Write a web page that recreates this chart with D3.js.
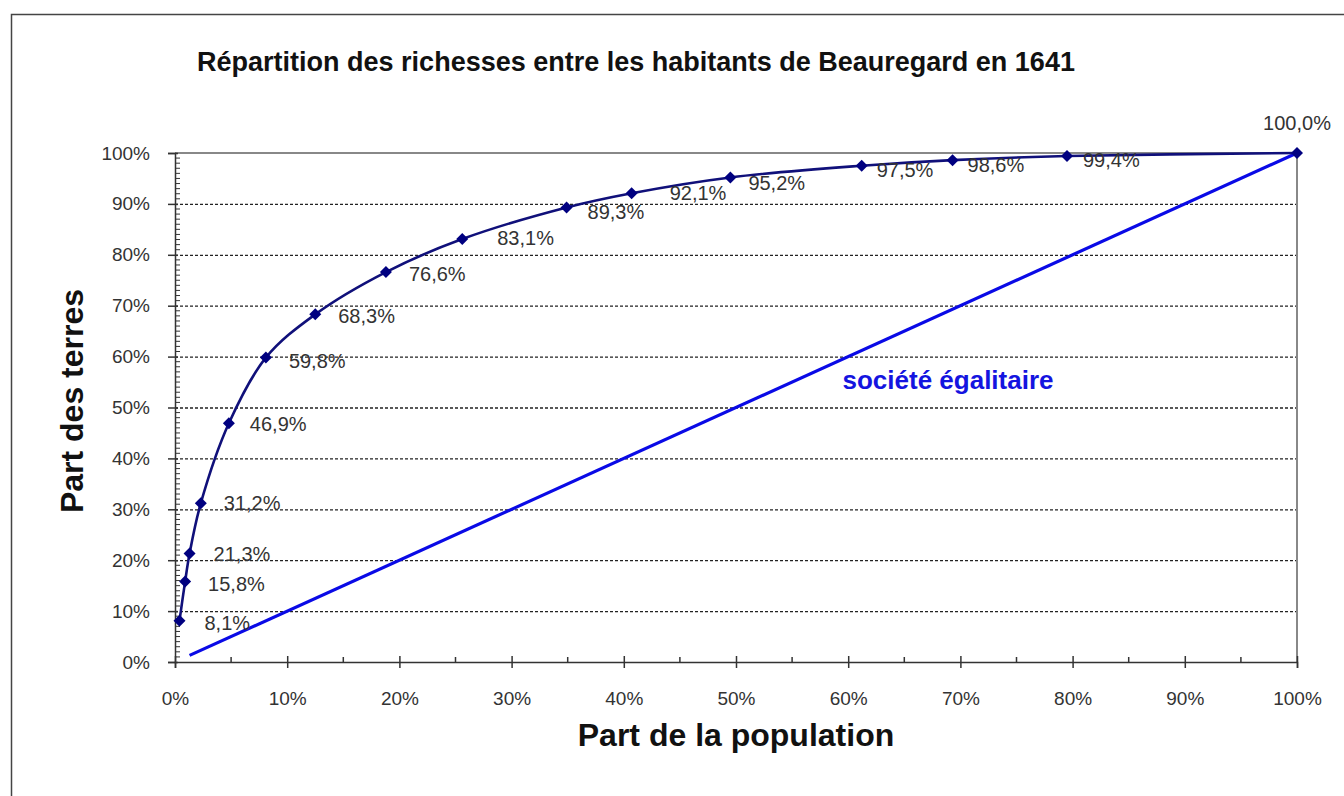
<!DOCTYPE html>
<html><head><meta charset="utf-8">
<script src="https://cdn.jsdelivr.net/npm/d3@7"></script>
<style>body{margin:0;background:#fff}svg{display:block}text{font-family:"Liberation Sans",Arial,sans-serif}</style>
</head><body>
<script>
const title = "Répartition des richesses entre les habitants de Beauregard en 1641";
const xLabel = "Part de la population";
const yLabel = "Part des terres";
const popShare = [0.4, 0.9, 1.3, 2.3, 4.8, 8.1, 12.5, 18.8, 25.6, 34.9, 40.7, 49.5, 61.2, 69.3, 79.5, 100];
const landShare = [8.1, 15.8, 21.3, 31.2, 46.9, 59.8, 68.3, 76.6, 83.1, 89.3, 92.1, 95.2, 97.5, 98.6, 99.4, 100.0];
const equalX = [1.3, 100];
const equalY = [1.3, 100];
const equalLabel = "société égalitaire";
const tickValues = [0,10,20,30,40,50,60,70,80,90,100];
// label placement offsets (layout only)
const labelDx = [25,23,24,23,21,23,23,23,35,21,38,18,15,15,16,0];
const labelDy = [2,2,0,0,1,3,2,2,-1,5,0,6,4,5,4,-30];

const W=1344,H=796;
const svg=d3.select("body").append("svg").attr("width",W).attr("height",H);
svg.append("rect").attr("x",11.5).attr("y",14.5).attr("width",W).attr("height",H).attr("fill","#fff").attr("stroke","#444").attr("stroke-width",1.5);

const x=d3.scaleLinear().domain([0,100]).range([175,1297]);
const y=d3.scaleLinear().domain([0,100]).range([662,153]);

// gridlines
svg.append("g").selectAll("line").data(tickValues.filter(v=>v>0&&v<100)).join("line")
  .attr("x1",x(0)).attr("x2",x(100)).attr("y1",d=>y(d)+0.5).attr("y2",d=>y(d)+0.5)
  .attr("stroke","#222").attr("stroke-width",1.3).attr("stroke-dasharray","3,2");
// plot border top & right
svg.append("line").attr("x1",x(0)).attr("x2",x(100)).attr("y1",y(100)).attr("y2",y(100)).attr("stroke","#888").attr("stroke-width",2);
svg.append("line").attr("x1",x(100)).attr("x2",x(100)).attr("y1",y(100)).attr("y2",y(0)).attr("stroke","#888").attr("stroke-width",2);

// axes
const fmt=d=>d+"%";
const yAxis=d3.axisLeft(y).tickValues(tickValues).tickFormat(fmt).tickSize(7).tickPadding(18);
const gy=svg.append("g").attr("transform",`translate(${x(0)},0)`).call(yAxis);
const xAxis=d3.axisBottom(x).tickValues(tickValues).tickFormat(fmt).tickSize(6).tickPadding(24);
const gx=svg.append("g").attr("transform",`translate(0,${y(0)})`).call(xAxis);
[gx,gy].forEach(g=>{
  g.selectAll(".domain").attr("stroke","#333").attr("stroke-width",1.5);
  g.selectAll(".tick line").attr("stroke","#333").attr("stroke-width",1.5);
  g.selectAll("text").attr("font-size",19).attr("fill","#333").attr("font-family","Liberation Sans, Arial, sans-serif");
});
// major ticks crossing into plot
gx.selectAll(".tick").append("line").attr("y1",0).attr("y2",-6).attr("stroke","#333").attr("stroke-width",1.5);
gy.selectAll(".tick").append("line").attr("x1",0).attr("x2",3).attr("stroke","#333").attr("stroke-width",1.5);
// minor ticks
svg.append("g").selectAll("line").data(d3.range(0,101,1).filter(v=>v%10)).join("line")
  .attr("x1",x(0)).attr("x2",x(0)+5).attr("y1",d=>y(d)).attr("y2",d=>y(d)).attr("stroke","#333").attr("stroke-width",1);
svg.append("g").selectAll("line").data(d3.range(5,100,10)).join("line")
  .attr("x1",d=>x(d)).attr("x2",d=>x(d)).attr("y1",y(0)).attr("y2",y(0)-5).attr("stroke","#333").attr("stroke-width",1.5);

// equality line
const eq=equalX.map((v,i)=>[v,equalY[i]]);
svg.append("path").datum(eq).attr("d",d3.line().x(d=>x(d[0])).y(d=>y(d[1])))
  .attr("fill","none").attr("stroke","#0a0ae6").attr("stroke-width",3.2);

// Lorenz curve
const pts=popShare.map((v,i)=>[v,landShare[i]]);
svg.append("path").datum(pts).attr("d",d3.line().curve(d3.curveCatmullRom.alpha(0.5)).x(d=>x(d[0])).y(d=>y(d[1])))
  .attr("fill","none").attr("stroke","#10107a").attr("stroke-width",2.6);
svg.append("g").selectAll("path").data(pts).join("path")
  .attr("transform",d=>`translate(${x(d[0])},${y(d[1])})`)
  .attr("d","M0,-6L6,0L0,6L-6,0Z").attr("fill","#000080");

// labels
svg.append("g").selectAll("text").data(pts).join("text")
  .attr("x",(d,i)=>x(d[0])+labelDx[i]).attr("y",(d,i)=>y(d[1])+labelDy[i])
  .attr("dy","0.35em").attr("text-anchor",(d,i)=>i===pts.length-1?"middle":"start")
  .attr("font-size",20).attr("fill","#333")
  .text(d=>d[1].toFixed(1).replace(".",",")+"%");

svg.append("text").attr("x",948).attr("y",y(55.5)).attr("dy","0.35em").attr("text-anchor","middle")
  .attr("font-size",26).attr("font-weight","bold").attr("fill","#1414e0").text(equalLabel);

svg.append("text").attr("x",636).attr("y",62).attr("dy","0.35em").attr("text-anchor","middle")
  .attr("font-size",27).attr("font-weight","bold").attr("fill","#111").text(title);
svg.append("text").attr("x",736).attr("y",735).attr("dy","0.35em").attr("text-anchor","middle")
  .attr("font-size",32).attr("font-weight","bold").attr("fill","#111").text(xLabel);
svg.append("text").attr("transform","translate(72,401) rotate(-90)").attr("dy","0.35em").attr("text-anchor","middle")
  .attr("font-size",32).attr("font-weight","bold").attr("fill","#111").text(yLabel);
</script>
</body></html>
